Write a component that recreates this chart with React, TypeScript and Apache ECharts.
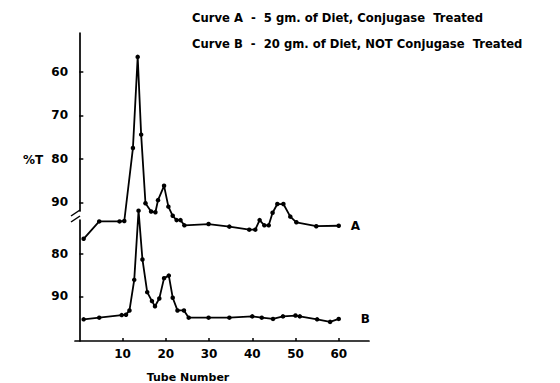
import React, { useEffect, useRef } from "react";
import * as echarts from "echarts";

// Curve A - 5 gm. of Diet, Conjugase Treated
const tubesA = [1, 4.6, 9.3, 10.4, 12.4, 13.5, 14.3, 15.3, 16.6, 17.6, 18.2, 19.6, 20.6, 21.6, 22.5, 23.4, 24.3, 29.9, 34.7, 39.3, 40.7, 41.7, 42.8, 43.8, 44.7, 45.8, 47.2, 48.8, 50.2, 54.8, 60];
const pctA = [98.4, 94.4, 94.4, 94.3, 77.5, 56.5, 74.4, 90.2, 92.1, 92.3, 89.5, 86.2, 91.0, 93.1, 94.1, 94.1, 95.3, 95.0, 95.6, 96.3, 96.3, 94.1, 95.3, 95.3, 92.4, 90.4, 90.4, 93.3, 94.6, 95.5, 95.4];

// Curve B - 20 gm. of Diet, NOT Conjugase Treated
const tubesB = [1, 4.6, 9.8, 10.8, 11.6, 12.7, 13.7, 14.6, 15.7, 16.8, 17.5, 18.5, 19.6, 20.7, 21.6, 22.7, 24.2, 25.3, 29.9, 34.7, 40, 42.2, 44.8, 47.1, 50, 51, 55, 58, 60];
const pctB = [95.4, 95.0, 94.4, 94.3, 93.3, 86.1, 69.8, 81.3, 89.0, 91.1, 92.3, 90.5, 85.7, 85.1, 90.3, 93.3, 93.3, 95.0, 95.0, 95.0, 94.7, 95.0, 95.3, 94.7, 94.5, 94.7, 95.4, 96.0, 95.3];

const xTicks = [10, 20, 30, 40, 50, 60];
const yTicksA = [60, 70, 80, 90];
const yTicksB = [80, 90];

const legendLines = [
  "Curve A  -  5 gm. of Diet, Conjugase  Treated",
  "Curve B  -  20 gm. of Diet, NOT Conjugase  Treated",
];

const FONT = "DejaVu Sans";

export default function App() {
  const ref = useRef<HTMLDivElement>(null);
  useEffect(() => {
    if (!ref.current) return;
    const chart = echarts.init(ref.current, undefined, { renderer: "svg" });
    const axisLine = { show: true, lineStyle: { color: "#000", width: 1.7 } };
    const labelStyle = { color: "#000", fontFamily: FONT, fontWeight: "bold" as const, fontSize: 12 };
    const series = (name: string, xs: number[], ys: number[], idx: number, letter: string, dist: number) => ({
      type: "line",
      name,
      xAxisIndex: idx,
      yAxisIndex: idx,
      data: xs.map((x, i) => [x, ys[i]]),
      clip: false,
      symbol: "circle",
      symbolSize: 4.5,
      itemStyle: { color: "#000" },
      lineStyle: { color: "#000", width: 1.8 },
      endLabel: { show: true, formatter: letter, distance: dist, ...labelStyle },
    });
    chart.setOption({
      animation: false,
      backgroundColor: "#fff",
      grid: [
        { left: 75, top: 33, width: 294, height: 178, outerBoundsMode: "none" },
        { left: 75, top: 220, width: 294, height: 121, outerBoundsMode: "none" },
      ],
      xAxis: [
        { type: "value", gridIndex: 0, min: -1, max: 67, show: false },
        {
          type: "value",
          gridIndex: 1,
          min: -1,
          max: 67,
          axisLine,
          axisTick: { show: true, inside: true, length: 3, customValues: xTicks, lineStyle: { color: "#000", width: 1.5 } },
          axisLabel: { show: true, customValues: xTicks, margin: 7, ...labelStyle },
          splitLine: { show: false },
        },
      ],
      yAxis: [
        {
          type: "value",
          gridIndex: 0,
          inverse: true,
          min: 51,
          max: 92,
          axisLine,
          axisTick: { show: true, inside: true, length: 4, customValues: yTicksA, lineStyle: { color: "#000", width: 1.5 } },
          axisLabel: { show: true, customValues: yTicksA, margin: 7, ...labelStyle },
          splitLine: { show: false },
        },
        {
          type: "value",
          gridIndex: 1,
          inverse: true,
          min: 72,
          max: 100.5,
          axisLine,
          axisTick: { show: true, inside: true, length: 4, customValues: yTicksB, lineStyle: { color: "#000", width: 1.5 } },
          axisLabel: { show: true, customValues: yTicksB, margin: 7, ...labelStyle },
          splitLine: { show: false },
        },
      ],
      series: [
        series("Curve A", tubesA, pctA, 0, "A", 12),
        series("Curve B", tubesB, pctB, 1, "B", 22),
      ],
      graphic: [
        { type: "line", shape: { x1: 71, y1: 216, x2: 80, y2: 210 }, style: { stroke: "#000", lineWidth: 1.5 } },
        { type: "line", shape: { x1: 71, y1: 222, x2: 80, y2: 216 }, style: { stroke: "#000", lineWidth: 1.5 } },
        { type: "text", x: 192, y: 18, style: { text: legendLines[0], fill: "#000", font: `bold 11.6px '${FONT}'`, verticalAlign: "middle" } },
        { type: "text", x: 192, y: 44, style: { text: legendLines[1], fill: "#000", font: `bold 11.6px '${FONT}'`, verticalAlign: "middle" } },
        { type: "text", x: 23, y: 160, style: { text: "%T", fill: "#000", font: `bold 12px '${FONT}'`, verticalAlign: "middle" } },
        { type: "text", x: 188, y: 377, style: { text: "Tube Number", fill: "#000", font: `bold 11px '${FONT}'`, align: "center", verticalAlign: "middle" } },
      ],
    });
    return () => chart.dispose();
  }, []);
  return <div ref={ref} style={{ position: "fixed", left: 0, top: 0, width: 560, height: 383 }} />;
}
